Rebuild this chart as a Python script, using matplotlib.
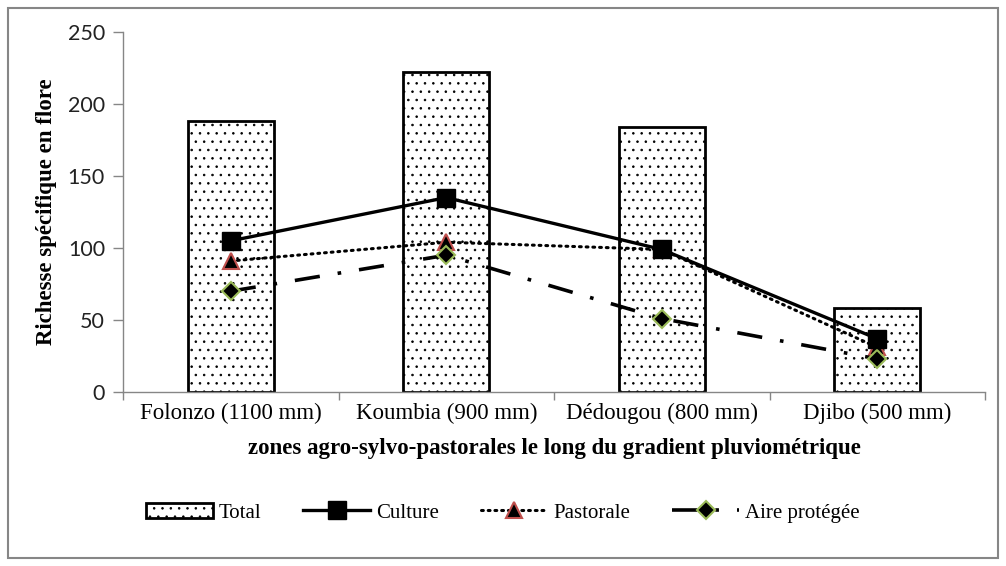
import matplotlib
matplotlib.use("Agg")
import matplotlib.pyplot as plt
import matplotlib.patches as mpatches
import numpy as np

plt.rcParams['hatch.linewidth'] = 0.6

categories = ["Folonzo (1100 mm)", "Koumbia (900 mm)", "Dédougou (800 mm)", "Djibo (500 mm)"]
total = [188, 222, 184, 58]
culture = [105, 135, 99, 37]
pastorale = [91, 104, 99, 31]
aire = [70, 95, 51, 23]
yticks = [0, 50, 100, 150, 200, 250]

serif = "Liberation Serif"
sans = "Lato"

fig = plt.figure(figsize=(10.06, 5.66), dpi=100)
ax = fig.add_axes([123/1006, 1-392/566, (985-123)/1006, (392-32)/566])

x = np.arange(len(categories))
bars = ax.bar(x, total, width=0.4, color="white", edgecolor="black", linewidth=2,
              hatch="..", label="Total", zorder=2)
l1, = ax.plot(x, culture, color="black", lw=2.4, marker="s", ms=13, mfc="black", mec="black",
              label="Culture", zorder=4)
l2, = ax.plot(x, pastorale, color="black", lw=2.2, ls=(0, (0.6, 1.6)), dash_capstyle="round",
              marker="^", ms=12, mfc="black", mec="#C0504D", mew=1.5, label="Pastorale", zorder=3)
l3, = ax.plot(x, aire, color="black", lw=2.6, ls=(0, (7, 5, 1, 5)),
              marker="D", ms=9, mfc="black", mec="#9BBB59", mew=1.5, label="Aire protégée", zorder=3)

ax.set_xlim(-0.5, 3.5)
ax.set_ylim(0, 250)
ax.set_yticks(yticks)
ax.set_yticklabels([str(v) for v in yticks], fontsize=15.5, family=sans, color="#222222")
ax.set_xticks(x)
ax.set_xticklabels(categories, fontsize=16.5, family=serif)
ax.tick_params(axis="x", which="major", length=0, pad=8)
ax.set_xticks([-0.5, 0.5, 1.5, 2.5, 3.5], minor=True)
ax.tick_params(axis="x", which="minor", length=6, color="#868686", width=1)
ax.tick_params(axis="y", length=7, color="#868686", width=1, pad=6)

for s in ["top", "right"]:
    ax.spines[s].set_visible(False)
for s in ["left", "bottom"]:
    ax.spines[s].set_color("#868686")
    ax.spines[s].set_linewidth(1)

ax.set_ylabel("Richesse spécifique en flore", fontsize=16.5, family=serif,
              fontweight="bold", labelpad=8)
ax.set_xlabel("zones agro-sylvo-pastorales le long du gradient pluviométrique",
              fontsize=16.5, family=serif, fontweight="bold", labelpad=10)

leg = fig.legend([bars, l1, l2, l3], ["Total", "Culture", "Pastorale", "Aire protégée"],
                 loc="center", bbox_to_anchor=(0.5, 1-513/566), ncol=4, frameon=False,
                 prop={"family": serif, "size": 15}, handlelength=3.2, columnspacing=2.0,
                 handletextpad=0.3)

fig.patches.append(mpatches.Rectangle((8/1006, 1-558/566), 990/1006, 550/566,
                                      transform=fig.transFigure, fill=False,
                                      edgecolor="#868686", lw=1.5))

fig.savefig("out.png", dpi=100)
